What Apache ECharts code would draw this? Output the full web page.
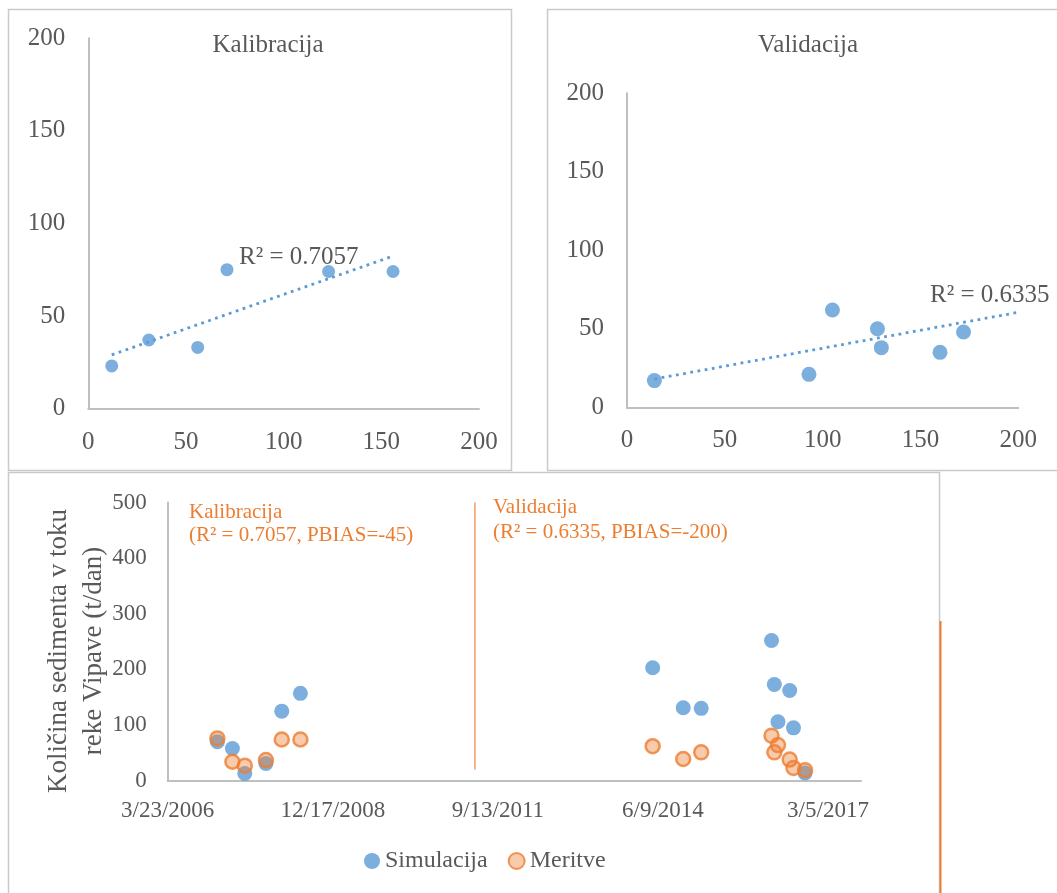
<!DOCTYPE html>
<html>
<head>
<meta charset="utf-8">
<script src="https://cdn.jsdelivr.net/npm/echarts@6/dist/echarts.min.js"></script>
<style>
html,body{margin:0;padding:0;background:#fff;}
#c{width:1057px;height:893px;}
</style>
</head>
<body>
<div id="c"></div>
<script>
// ---------- DATA ----------
// Scatter: Kalibracija (x = simulacija, y = meritve)
const calScatterX = [12, 31, 56, 71, 123, 156];
const calScatterY = [23, 37, 33, 75, 74, 74];
const calTrendX = [12, 155];
const calTrendY = [29, 82];
const calR2 = 'R² = 0.7057';

// Scatter: Validacija
const valScatterX = [14, 93, 105, 128, 130, 160, 172];
const valScatterY = [17, 21, 62, 50, 38, 35, 48];
const valTrendX = [14, 200];
const valTrendY = [18, 60.5];
const valR2 = 'R² = 0.6335';

const scatterTicks = [0, 50, 100, 150, 200];

// Time series
const calDates = ['2007-01-18','2007-04-19','2007-07-03','2007-11-08','2008-02-12','2008-06-04'];
const calSim   = [70, 58, 13, 31, 125, 157];
const calMeas  = [76, 34, 27, 37, 74, 74];

const valDates = ['2014-04-08','2014-10-10','2015-01-27','2016-03-28','2016-04-14','2016-05-06','2016-07-16','2016-08-08','2016-10-17'];
const valSim   = [203, 131, 130, 252, 173, 106, 162, 95, 14];
const valMeas  = [62, 39, 51, 81, 51, 64, 38, 23, 19];

const splitDate = '2011-04-27';
const splitRange = [20, 500];

const dateTicks = ['3/23/2006', '12/17/2008', '9/13/2011', '6/9/2014', '3/5/2017'];
const axisStartDate = '2006-03-23';
const axisSpanDays = 4200;
const tickStepDays = 1000;
const yTicksTS = [0, 100, 200, 300, 400, 500];

// ---------- HELPERS ----------
const BASE = (function(){const [y,m,d]=axisStartDate.split('-').map(Number);return Date.UTC(y,m-1,d);})();
function dayOffset(s){const [y,m,d]=s.split('-').map(Number);return (Date.UTC(y,m-1,d)-BASE)/86400000;}
function zip(a,b){return a.map((v,i)=>[v,b[i]]);}

const FONT = "'Liberation Serif', 'Times New Roman', serif";
const GREY = '#595959';
const AXIS = '#BFBFBF';
const BLUE = '#5B9BD5';
const ORANGE = '#ED7D31';
const ORANGE_T = 'rgba(237,125,49,0.5)';

function scatterAxis(extra){
  return Object.assign({
    type:'value', min:scatterTicks[0], max:scatterTicks[scatterTicks.length-1], interval:scatterTicks[1]-scatterTicks[0],
    splitLine:{show:false}, axisTick:{show:false},
    axisLine:{show:true, onZero:false, lineStyle:{color:AXIS,width:2}},
    axisLabel:{color:GREY, fontFamily:FONT, fontSize:25}
  }, extra);
}

const chart = echarts.init(document.getElementById('c'), null, {renderer:'canvas'});

const simData = zip(calDates.map(dayOffset), calSim).concat(zip(valDates.map(dayOffset), valSim));
const measData = zip(calDates.map(dayOffset), calMeas).concat(zip(valDates.map(dayOffset), valMeas));
const sd = dayOffset(splitDate);

const option = {
  animation:false,
  backgroundColor:'#fff',
  grid:[
    {left:88.3, top:38.3, width:390.7, height:370.2, outerBoundsMode:'none'},
    {left:627, top:93.3, width:391.3, height:314, outerBoundsMode:'none'},
    {left:167.7, top:502.5, width:693.3, height:278.2, outerBoundsMode:'none'}
  ],
  xAxis:[
    scatterAxis({gridIndex:0, axisLabel:{color:GREY,fontFamily:FONT,fontSize:25,margin:21}}),
    scatterAxis({gridIndex:1, axisLabel:{color:GREY,fontFamily:FONT,fontSize:25,margin:21}}),
    {type:'value', gridIndex:2, min:0, max:axisSpanDays, interval:tickStepDays,
     splitLine:{show:false}, axisTick:{show:false},
     axisLine:{show:true,onZero:false,lineStyle:{color:AXIS,width:2}},
     axisLabel:{color:GREY,fontFamily:FONT,fontSize:23,margin:19,showMaxLabel:false,
       formatter:function(v){const i=Math.round(v/tickStepDays);return (Math.abs(v-i*tickStepDays)<1e-6 && i<dateTicks.length)?dateTicks[i]:'';}}}
  ],
  yAxis:[
    scatterAxis({gridIndex:0, axisLabel:{color:GREY,fontFamily:FONT,fontSize:25,margin:23}}),
    scatterAxis({gridIndex:1, axisLabel:{color:GREY,fontFamily:FONT,fontSize:25,margin:23}}),
    {type:'value', gridIndex:2, min:yTicksTS[0], max:yTicksTS[yTicksTS.length-1], interval:yTicksTS[1]-yTicksTS[0],
     splitLine:{show:false}, axisTick:{show:false},
     axisLine:{show:true,onZero:false,lineStyle:{color:AXIS,width:2}},
     axisLabel:{color:GREY,fontFamily:FONT,fontSize:23,margin:21}}
  ],
  legend:{
    data:['Simulacija','Meritve'],
    left:359, top:844, itemWidth:16, itemHeight:16, itemGap:20, icon:'circle',
    textStyle:{color:GREY,fontFamily:FONT,fontSize:24}
  },
  series:[
    {name:'calScatter', type:'scatter', xAxisIndex:0, yAxisIndex:0, data:zip(calScatterX,calScatterY),
     symbolSize:13, itemStyle:{color:BLUE}},
    {name:'calTrend', type:'line', xAxisIndex:0, yAxisIndex:0, data:zip(calTrendX,calTrendY),
     symbol:'none', lineStyle:{color:BLUE,width:2.8,type:[2.8,4.5]}, z:5},
    {name:'valScatter', type:'scatter', xAxisIndex:1, yAxisIndex:1, data:zip(valScatterX,valScatterY),
     symbolSize:15, itemStyle:{color:BLUE}},
    {name:'valTrend', type:'line', xAxisIndex:1, yAxisIndex:1, data:zip(valTrendX,valTrendY),
     symbol:'none', lineStyle:{color:BLUE,width:2.8,type:[2.8,4.5]}, z:5},
    {name:'Simulacija', type:'scatter', xAxisIndex:2, yAxisIndex:2, data:simData,
     symbolSize:15, itemStyle:{color:BLUE}},
    {name:'Meritve', type:'scatter', xAxisIndex:2, yAxisIndex:2, data:measData,
     symbolSize:14, itemStyle:{color:ORANGE_T, borderColor:ORANGE, borderWidth:2.5}},
    {name:'split', type:'line', xAxisIndex:2, yAxisIndex:2, data:[[sd,splitRange[0]],[sd,splitRange[1]]],
     symbol:'none', lineStyle:{color:'#F19A5E',width:1.5}}
  ],
  graphic:[
    {type:'rect', shape:{x:8.5,y:9.5,width:503,height:461}, style:{fill:null,stroke:'#C9C9C9',lineWidth:1.5}, silent:true},
    {type:'rect', shape:{x:547.5,y:9.5,width:540,height:461}, style:{fill:null,stroke:'#C9C9C9',lineWidth:1.5}, silent:true},
    {type:'rect', shape:{x:8.5,y:472.5,width:931,height:460}, style:{fill:null,stroke:'#C9C9C9',lineWidth:1.5}, silent:true},
    {type:'line', shape:{x1:940.5,y1:621,x2:940.5,y2:900}, style:{stroke:ORANGE,lineWidth:2}, silent:true},
    {type:'text', x:268, y:45, style:{text:'Kalibracija', font:'25px '+FONT, fill:GREY, align:'center', verticalAlign:'middle'}},
    {type:'text', x:808, y:45, style:{text:'Validacija', font:'25px '+FONT, fill:GREY, align:'center', verticalAlign:'middle'}},
    {type:'text', x:239, y:257, style:{text:calR2, font:'25px '+FONT, fill:GREY, align:'left', verticalAlign:'middle'}},
    {type:'text', x:930, y:295, style:{text:valR2, font:'25px '+FONT, fill:GREY, align:'left', verticalAlign:'middle'}},
    {type:'text', x:189, y:512, style:{text:'Kalibracija', font:'21px '+FONT, fill:ORANGE, align:'left', verticalAlign:'middle'}},
    {type:'text', x:189, y:535, style:{text:'(R² = 0.7057, PBIAS=-45)', font:'21px '+FONT, fill:ORANGE, align:'left', verticalAlign:'middle'}},
    {type:'text', x:493, y:507, style:{text:'Validacija', font:'21px '+FONT, fill:ORANGE, align:'left', verticalAlign:'middle'}},
    {type:'text', x:493, y:532, style:{text:'(R² = 0.6335, PBIAS=-200)', font:'21px '+FONT, fill:ORANGE, align:'left', verticalAlign:'middle'}},
    {type:'text', x:76, y:651, rotation:Math.PI/2,
     style:{text:'Količina sedimenta v toku\nreke Vipave (t/dan)', font:'27px '+FONT, fill:GREY, align:'center', verticalAlign:'middle', lineHeight:35}}
  ]
};
chart.setOption(option);
</script>
</body>
</html>
